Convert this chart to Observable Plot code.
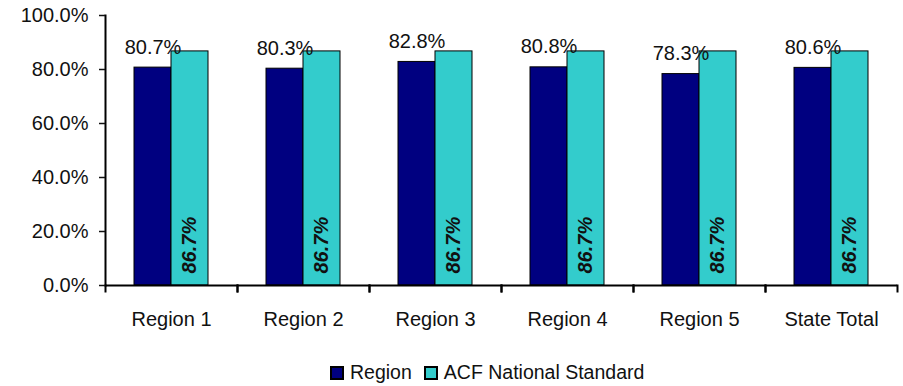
<!DOCTYPE html>
<html>
<head>
<meta charset="utf-8">
<script src="https://cdn.jsdelivr.net/npm/d3@7"></script>
<script src="https://cdn.jsdelivr.net/npm/@observablehq/plot@0.6"></script>
<style>
  html, body { margin: 0; padding: 0; background: #fff; }
  #chart { width: 903px; }
  .leg-swatches { font: 19.5px "Liberation Sans", Arial, sans-serif !important; color: #111 !important; margin-left: 331px !important; margin-top: 16px !important; }
  .leg-swatch { margin-right: 13px !important; }
  .leg-swatch > svg { margin-right: 7px !important; overflow: visible; }
  .leg-swatch svg rect { stroke: #000; stroke-width: 2px; }
</style>
</head>
<body>
<div id="chart"></div>
<script>
const categories = ["Region 1", "Region 2", "Region 3", "Region 4", "Region 5", "State Total"];
const series = ["Region", "ACF National Standard"];
const regionValues = [80.7, 80.3, 82.8, 80.8, 78.3, 80.6];
const standardValues = [86.7, 86.7, 86.7, 86.7, 86.7, 86.7];
const yTicks = [0, 20, 40, 60, 80, 100];
const colors = ["#000080", "#33cccc"];

const rows = categories.flatMap((c, i) => [
  {cat: c, series: series[0], value: regionValues[i]},
  {cat: c, series: series[1], value: standardValues[i]}
]);
const fmt = v => v.toFixed(1) + "%";

const W = 903, H = 340;
const mTop = 15, mBottom = 55, mLeft = 105, mRight = 6;
const innerH = H - mTop - mBottom;

const plot = Plot.plot({
  width: W,
  height: H,
  marginTop: mTop,
  marginBottom: mBottom,
  marginLeft: mLeft,
  marginRight: mRight,
  style: {fontFamily: "Liberation Sans, Arial, sans-serif", fontSize: "20px", color: "#111", background: "#fff", overflow: "visible"},
  fx: {domain: categories, paddingInner: 0, paddingOuter: 0, label: null},
  x: {domain: series, paddingInner: 0, paddingOuter: 0.737, axis: null},
  y: {domain: [0, 100], label: null},
  color: {domain: series, range: colors},
  marks: [
    Plot.barY(rows, {fx: "cat", x: "series", y: "value", fill: "series", stroke: "#000", strokeWidth: 1}),
    Plot.ruleY([0], {stroke: "#000", strokeWidth: 2}),
    Plot.frame({anchor: "left", facetAnchor: "left", stroke: "#000", strokeWidth: 2}),
    Plot.frame({anchor: "left", insetTop: innerH, insetBottom: -6, stroke: "#000", strokeWidth: 2}),
    Plot.frame({anchor: "right", insetTop: innerH, insetBottom: -6, stroke: "#000", strokeWidth: 2}),
    Plot.axisY({ticks: yTicks, tickFormat: fmt, tickSize: 6, tickPadding: 11, fontSize: 20, label: null, strokeWidth: 1.5}),
    Plot.axisFx({anchor: "bottom", tickSize: 0, tickPadding: 26, fontSize: 20, label: null}),
    Plot.text(rows.filter(d => d.series === series[0]), {
      fx: "cat", x: "series", y: "value", text: d => fmt(d.value),
      lineAnchor: "bottom", dy: -14, fontSize: 20, fill: "#111"
    }),
    Plot.text(rows.filter(d => d.series === series[1]), {
      fx: "cat", x: "series", frameAnchor: "bottom", text: d => fmt(d.value),
      rotate: -90, textAnchor: "start", lineAnchor: "middle", dy: -12,
      fontSize: 20, fontWeight: "bold", fontStyle: "italic", fill: "#111"
    })
  ]
});

const chart = document.getElementById("chart");
chart.appendChild(plot);
chart.appendChild(plot.legend("color", {className: "leg", swatchSize: 12}));
</script>
</body>
</html>
